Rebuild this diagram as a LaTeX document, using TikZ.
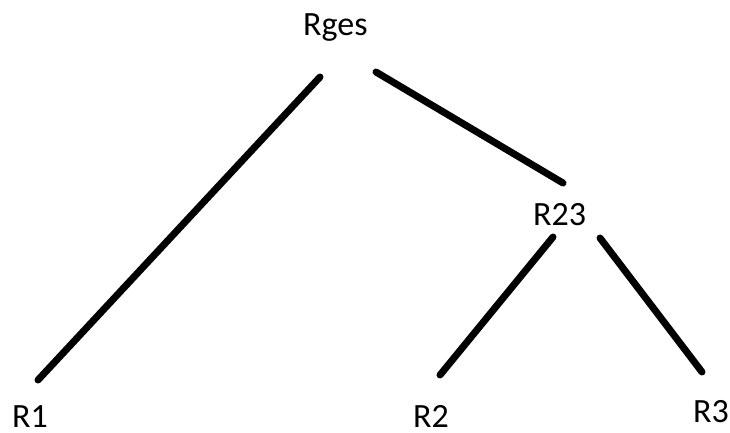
\documentclass[tikz,border=0pt]{standalone}
\usepackage{fontspec}
\setmainfont{Carlito}
\usepackage{tikz}
\usetikzlibrary{positioning}

\begin{document}
\begin{tikzpicture}[x=1pt, y=-1pt,
    lbl/.style={inner sep=0, anchor=base west, font=\fontsize{34}{40}\selectfont},
    edge/.style={line width=7pt, line cap=round}]
  \useasboundingbox (0, 0) rectangle (730, 432);
  % labels
  \node[lbl] (rges) at (303, 35)  {Rges};
  \node[lbl] (r23)  at (533, 225) {R23};
  \node[lbl] (r1)   at (12, 427)  {R1};
  \node[lbl] (r2)   at (413, 427) {R2};
  \node[lbl] (r3)   at (693, 422) {R3};
  % branches
  \draw[edge] ([shift={(17, 42)}]rges.base west) -- ([shift={(26, -47)}]r1.base west);
  \draw[edge] ([shift={(73, 37)}]rges.base west) -- ([shift={(30, -42)}]r23.base west);
  \draw[edge] ([shift={(20, 12)}]r23.base west)  -- ([shift={(27, -52)}]r2.base west);
  \draw[edge] ([shift={(67, 13)}]r23.base west)  -- ([shift={(9, -50)}]r3.base west);
\end{tikzpicture}
\end{document}
